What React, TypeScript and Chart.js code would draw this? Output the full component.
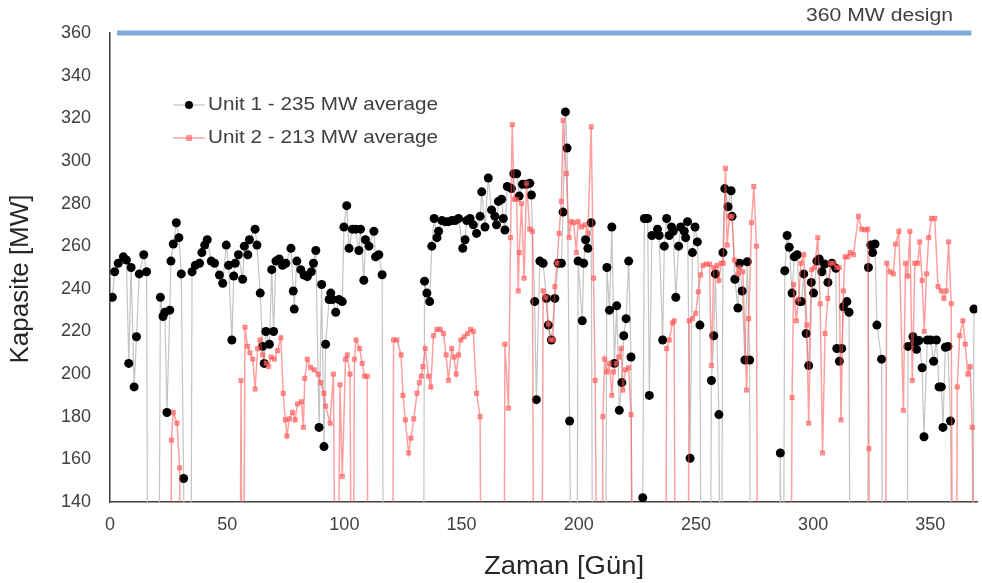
import React, { useEffect, useRef } from 'react';
import { Chart, registerables } from 'chart.js';

Chart.register(...registerables);

// Unit 1 daily capacity (MW); 0 = unit offline (drops below the axis)
const u1Day = [
  1, 2, 3.5, 5.7, 7, 8, 9, 10.3, 11.3, 12.5, 14.4, 15.6, 16.4, 20.5, 21.5, 22.6, 23.4, 24.3, 25.5, 26, 27, 28.3, 29.4, 30.4, 31.4, 32.5, 34.3,
  35, 36.4, 38.2, 39.2, 40.4, 41.5, 43.2, 44.6, 46.7, 48.1, 49.6, 50.6, 52, 52.8, 53.4, 54.8, 56.6, 57.3, 58.8, 59.5, 61.9, 62.7,
  64.1, 65.1, 65.8, 66.5, 68, 69, 69.8, 70.8, 72.2, 73.6, 75, 77.2, 78.2, 78.6, 79.7, 81.4, 82.8, 84.2, 85.9, 86.8, 87.8, 89.2, 90.3,
  91.3, 92, 93.5, 94.2, 94.9, 96.3, 97.7, 99.1, 99.8, 101, 102, 103.4, 104.8, 106.2, 106.9, 108.3, 109, 110.5, 112.6, 113.3, 114.7,
  116.1, 117, 133.5, 134.2, 135.2, 136.4, 137.3, 138.3, 139.5, 140.2, 141.6, 143, 144.4, 145.8, 147.3, 148.7, 150.5, 151.5, 152.2,
  153.6, 155, 156.4, 157.9, 158.6, 160, 161.4, 162.8, 164.2, 164.9, 165.7, 167.1, 167.8, 168.5, 169.5, 171.3, 172.3, 173.5, 174.6,
  176, 177.7, 179.1, 179.8, 181.2, 181.9, 183.4, 184.8, 186.2, 187, 188.3, 189.8, 191.2, 192.6, 193.3, 194.3, 195, 196.1, 197.5, 199,
  199.7, 201.5, 202.1, 202.9, 203.9, 205.3, 206.2, 211.2, 212, 213.1, 214.1, 215.2, 216.2, 217.3, 218.4, 219.2, 220.2, 221.3, 222.3,
  223.3, 226.5, 227.3, 228, 229.4, 230.1, 231.2, 233.6, 234.3, 235.8, 236.5, 237.5, 238.6, 239.6, 240.3, 241.4, 242.6, 243.5, 245,
  245.6, 246.4, 247.5, 248.5, 249.6, 250.6, 251.7, 252.5, 255.8, 256.6, 257.6, 258.3, 259.8, 260.6, 261.5, 262.3, 263.7, 265, 265.4,
  266.6, 267.9, 268.6, 269.7, 270.9, 271.9, 272.9, 273.6, 285.3, 286, 287, 287.9, 288.9, 289.8, 291, 292, 293.2, 294.2, 295, 296, 297,
  298.1, 299.2, 300.2, 301.6, 302.6, 303.7, 304.9, 306.3, 308, 309.7, 310.1, 311.2, 312.2, 312.9, 314.4, 315.3, 316, 323, 323.6,
  324.6, 325.4, 326.4, 327.2, 329.2, 330, 339.8, 340.5, 342.6, 343.3, 344.1, 345.2, 346.5, 347.3, 348.7, 350.1, 351.4, 352.6, 353.7,
  354.7, 355.4, 356.4, 357.5, 358.6, 359.6, 367.9, 368.6,
];
const u1MW = [
  236, 248, 252, 255, 253.5, 205, 250, 194, 217.5, 247, 256, 248, 0, 0, 236, 227, 229, 182, 230, 253, 261, 271, 264, 247, 151, 0, 0,
  248, 251, 252, 257, 260.5, 263, 253, 252, 246.5, 242.6, 260.5, 251, 216, 246, 252, 256, 244.5, 260, 256, 263, 268, 260.5,
  238, 213, 205, 220, 214, 249, 220, 253, 254, 251, 252, 259, 239, 230.5, 253, 249, 246.5, 245.7, 248, 252, 258, 175, 242,
  166, 214, 235, 238, 235, 229, 235, 234, 269, 279, 259, 268, 268, 258, 268, 244, 263, 260, 267, 255, 256,
  246.6, 0, 0, 243.6, 238, 234, 260, 273, 264, 267, 272, 271.5, 271.5, 272, 272, 273, 259, 263, 272,
  273, 270, 266, 274, 285.5, 269, 292, 277, 274, 270, 281, 282, 273, 267.6, 288, 287, 294, 294, 283.5,
  289, 289, 289.5, 284, 234, 188, 253, 252, 235.5, 223, 216, 235.5, 252, 252, 276, 323, 306, 178, 0, 0,
  253, 225, 252, 263, 259, 271, 0, 0, 250, 230, 269, 205, 232, 183, 196, 218, 226, 253, 208,
  0, 0, 142, 273, 273, 190, 265, 268, 265, 216, 260, 273, 265, 269, 267, 236, 260, 269, 267,
  264, 271.5, 160.5, 257, 269, 262, 223, 0, 0, 197, 218, 247, 181, 0, 257, 287, 278.5, 286, 274,
  244.5, 231, 252, 239, 206.6, 252.7, 206.6, 0, 0, 163, 0, 248.5, 265, 259.5, 238, 255, 256, 234, 234, 247, 219,
  204, 243, 238, 253, 254, 248, 251.6, 243, 252, 249.6, 212, 206, 212, 231.6, 234, 229, 0, 0, 250,
  260.5, 257, 261, 223, 207, 0, 0, 213, 217.5, 215, 211.6, 215.7, 203, 170.6, 216, 216, 206, 216, 194,
  194, 175, 212.6, 213, 178, 0, 0, 230.5,
];

// Unit 2 daily capacity (MW); 0 = unit offline
const u2Day = [
  25.8, 26.2, 27, 28.6, 29.7, 30.5, 55.2, 55.9, 56.6, 57.6, 58.7, 59.7, 60.9, 61.9, 63, 64, 65.1, 66.6, 67.7, 68.7, 70.1, 71.5, 72.9,
  73.9, 74.8, 75.5, 76.5, 77.9, 79, 80, 81.7, 82.5, 83.1, 84.2, 85.6, 87.1, 88.8, 89.9, 91.3, 92, 93.9, 95.3, 96.7, 98.1, 99.1, 100.5,
  101.2, 102.4, 103.4, 104.3, 105, 106.5, 107.6, 108.6, 109.7, 110.4, 120.3, 121, 122.4, 124.2, 125, 126, 127.4, 128.4, 129.6, 131,
  132, 132.8, 133.5, 134.5, 135.9, 136.9, 138, 139.5, 140.9, 142.3, 143.4, 144.4, 145.8, 146.8, 147.7, 148.7, 149.7, 151.1, 152.5,
  153.9, 155, 156.4, 157.9, 158.6, 167.9, 168.5, 170, 170.9, 171.6, 172.5, 173.5, 174.2, 174.6, 175.6, 176.7, 177.7, 179.1, 180.2,
  181, 184, 184.8, 186, 187, 187.9, 189, 189.8, 190.7, 191.6, 192.6, 193.3, 194.7, 195.9, 196.8, 197.8, 199, 199.7, 201.1, 202.5,
  203.9, 205.3, 206.3, 207, 208.3, 209.8, 210.3, 211, 212, 213.1, 214.1, 214.8, 216, 217.1, 218.1, 218.8, 219.9, 221.3, 222.3, 223.5,
  236.9, 237.5, 238.6, 240, 240.7, 241.4, 246.4, 247.1, 248.5, 249.9, 251, 252, 253, 254.4, 255.8, 256.6, 257.6, 259, 259.8, 260.8,
  261.6, 262.6, 263.3, 264.3, 265.4, 266.4, 267.9, 268.6, 270, 271.6, 272.5, 273.7, 274.7, 275.8, 276.5, 290.3, 291, 291.7, 292.8,
  293.8, 294.8, 296, 297.3, 298.1, 299.4, 300.6, 302, 303, 304, 305.1, 306.3, 307.3, 308.7, 310.1, 311.1, 311.9, 312.9, 313.6, 314.8,
  315.8, 317.2, 319.3, 320.7, 322.1, 323.3, 323.8, 324.5, 330.5, 331.4, 332.8, 334.2, 335.2, 336.6, 338.5, 339.4, 340.3, 341.3, 342.3,
  343.4, 344.6, 345.5, 346.5, 347.4, 348.4, 349.3, 350.5, 351.9, 353.3, 354.7, 355.8, 356.8, 357.8, 358.9, 359.8, 360.8, 361.5, 362.5,
  363.9, 364.9, 366, 367, 367.9, 369,
];
const u2MW = [
  0, 169, 182, 177, 156, 0, 0, 197, 0, 222, 213, 210, 207, 193, 212, 216, 209, 205, 203.5, 208, 207, 211, 217,
  191, 178.5, 171, 179, 182, 178.5, 186, 187, 175, 198, 207, 203, 202, 200, 196, 191, 185, 177, 200, 0, 195, 152, 207,
  209, 200, 0, 207, 216, 212, 205, 199, 199, 0, 0, 216, 216, 209, 190, 178.5, 163, 170, 179, 191,
  196, 199, 203.5, 212, 199, 194, 218, 221, 221, 219, 209, 197, 212, 208, 200, 209, 216, 217.5, 219,
  221, 220, 191, 180, 0, 0, 214, 184, 264, 317, 282, 282, 239, 257, 280, 245, 289.5, 268, 267,
  0, 0, 239, 236, 223.5, 216, 216, 241, 252, 266, 281, 319, 294, 264, 271.5, 271, 257, 271.5, 269, 270,
  266, 316, 245, 197, 0, 0, 180, 207, 201, 205, 190, 201, 205, 208, 212, 192.5, 202, 203, 181, 0,
  0, 212, 216, 224, 225, 0, 0, 225, 226, 228.5, 238.6, 246.5, 251, 251.6, 251.6, 204, 250, 251, 244, 252,
  252, 296.5, 260.5, 274, 274, 253.5, 247, 250, 248, 192.5, 226, 271, 288, 260, 0, 0, 189, 242, 225,
  235, 252, 256, 223, 177, 249, 250, 264, 233, 163, 219, 235.5, 252, 252, 250, 250, 178.5, 239, 255, 255,
  257, 256, 274, 268, 267.6, 268, 165, 0, 0, 252, 248, 247, 261, 267, 183, 252, 246, 267, 197,
  252, 252, 262, 244, 220, 247, 264, 273, 273, 241, 239, 235.5, 239, 262, 233, 0, 0, 194, 218,
  225, 214, 200, 203.5, 175, 0,
];

const designDay = [3, 367.5];
const designMW = [360, 360];

const xTickValues = [0, 50, 100, 150, 200, 250, 300, 350];
const yTickValues = [140, 160, 180, 200, 220, 240, 260, 280, 300, 320, 340, 360];

const legendLabels = ['Unit 1 - 235 MW average', 'Unit 2 - 213 MW average'];
const designLabel = '360 MW design';
const xTitle = 'Zaman [Gün]';
const yTitle = 'Kapasite [MW]';

const FONT = "'Liberation Sans', Arial, sans-serif";
const TEXT = '#404040';
const TITLE = '#262626';
const U1_LINE = '#c4c4c4';
const U1_POINT = '#000000';
const U2_LINE = 'rgba(255, 80, 80, 0.55)';
const U2_POINT = 'rgba(255, 100, 100, 0.65)';
const DESIGN = '#7fa9d9';

const toPts = (xs: number[], ys: number[]) => xs.map((x, i) => ({ x, y: ys[i] }));

// draws text (left-aligned at x) horizontally scaled to a given width
function stretchText(ctx: CanvasRenderingContext2D, text: string, x: number, y: number, targetW: number) {
  const w = ctx.measureText(text).width;
  const k = targetW / w;
  ctx.save();
  ctx.translate(x, y);
  ctx.scale(k, 1);
  ctx.fillText(text, 0, 0);
  ctx.restore();
}

const overlayPlugin = {
  id: 'overlay',
  afterDraw(chart: any) {
    const ctx = chart.ctx as CanvasRenderingContext2D;
    ctx.save();
    const rows = [
      { y: 105, line: U1_LINE, lw: 1.2, draw: (x: number, y: number) => { ctx.fillStyle = U1_POINT; ctx.beginPath(); ctx.arc(x, y, 4, 0, Math.PI * 2); ctx.fill(); } },
      { y: 138, line: U2_LINE, lw: 1.5, draw: (x: number, y: number) => { ctx.fillStyle = U2_POINT; ctx.fillRect(x - 3, y - 3, 6, 6); } },
    ];
    ctx.textAlign = 'left';
    ctx.textBaseline = 'middle';
    rows.forEach((r, i) => {
      ctx.strokeStyle = r.line;
      ctx.lineWidth = r.lw;
      ctx.beginPath();
      ctx.moveTo(173, r.y);
      ctx.lineTo(205, r.y);
      ctx.stroke();
      r.draw(189, r.y);
      ctx.fillStyle = TEXT;
      ctx.font = `19px ${FONT}`;
      stretchText(ctx, legendLabels[i], 208, r.y, 230);
    });
    // design label
    ctx.fillStyle = TEXT;
    ctx.font = `19px ${FONT}`;
    stretchText(ctx, designLabel, 806, 16, 147);
    // axis titles
    ctx.fillStyle = TITLE;
    ctx.font = `26px ${FONT}`;
    stretchText(ctx, xTitle, 484, 567, 160);
    ctx.save();
    ctx.translate(21, 279);
    ctx.rotate(-Math.PI / 2);
    ctx.textAlign = 'center';
    ctx.fillText(yTitle, 0, 0);
    ctx.restore();
    ctx.restore();
  },
};

export default function App() {
  const ref = useRef<HTMLCanvasElement | null>(null);
  useEffect(() => {
    if (!ref.current) return;
    const chart = new Chart(ref.current, {
      type: 'line',
      data: {
        datasets: [
          {
            label: legendLabels[1],
            data: toPts(u2Day, u2MW),
            borderColor: U2_LINE,
            borderWidth: 1.5,
            pointStyle: 'rect',
            pointRadius: 3,
            pointBackgroundColor: U2_POINT,
            pointBorderColor: 'rgba(255, 70, 70, 0.6)',
            pointBorderWidth: 0.8,
            tension: 0,
            order: 0,
          },
          {
            label: legendLabels[0],
            data: toPts(u1Day, u1MW),
            borderColor: U1_LINE,
            borderWidth: 1.2,
            pointStyle: 'circle',
            pointRadius: 4.5,
            pointBackgroundColor: U1_POINT,
            pointBorderWidth: 0,
            tension: 0,
            order: 1,
          },
          {
            label: designLabel,
            data: toPts(designDay, designMW),
            borderColor: DESIGN,
            borderWidth: 5,
            pointRadius: 0,
            clip: false,
            order: 2,
          } as any,
        ],
      },
      options: {
        animation: false,
        responsive: false,
        devicePixelRatio: 1,
        layout: { padding: { top: 33, right: 1, left: 0, bottom: 0 } },
        plugins: { legend: { display: false }, tooltip: { enabled: false } },
        scales: {
          x: {
            type: 'linear',
            min: 0,
            max: 370,
            afterFit: (s: any) => { s.height = 81; },
            afterBuildTicks: (s: any) => { s.ticks = xTickValues.map((v) => ({ value: v })); },
            ticks: { stepSize: 50, color: TEXT, font: { family: FONT, size: 18 }, padding: 12 },
            grid: { display: false, drawTicks: false },
            border: { display: true, color: '#404040', width: 1.5 },
            title: { display: false, text: xTitle },
          },
          y: {
            type: 'linear',
            min: 140,
            max: 360,
            afterFit: (s: any) => { s.width = 110; },
            afterBuildTicks: (s: any) => { s.ticks = yTickValues.map((v) => ({ value: v })); },
            ticks: { stepSize: 20, color: TEXT, font: { family: FONT, size: 18 }, padding: 19 },
            grid: { display: false, drawTicks: false },
            border: { display: true, color: '#404040', width: 1.5 },
            title: { display: false, text: yTitle },
          },
        },
      },
      plugins: [overlayPlugin],
    });
    return () => chart.destroy();
  }, []);
  return (
    <div style={{ position: 'fixed', left: 0, top: 0, width: 982, height: 583, overflow: 'hidden', background: '#fff' }}>
      <canvas ref={ref} width={982} height={583} style={{ width: 982, height: 583, display: 'block' }} />
    </div>
  );
}
